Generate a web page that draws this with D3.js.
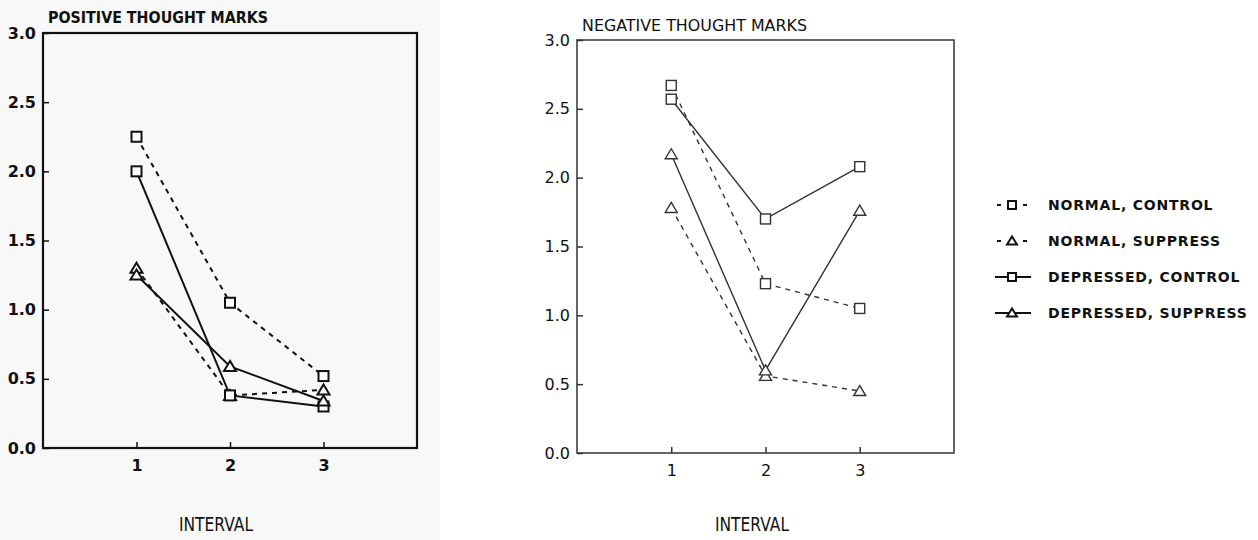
<!DOCTYPE html>
<html>
<head>
<meta charset="utf-8">
<script src="https://cdn.jsdelivr.net/npm/d3@7"></script>
<style>
  body { margin: 0; background: white; }
  text { font-family: "DejaVu Sans", sans-serif; fill: #111; }
</style>
</head>
<body>
<script>
// data
let intervals = [1, 2, 3];
let x_ticks = [1, 2, 3];
let y_ticks = [0, 0.5, 1.0, 1.5, 2.0, 2.5, 3.0];
let series_names = ["NORMAL, CONTROL", "NORMAL, SUPPRESS", "DEPRESSED, CONTROL", "DEPRESSED, SUPPRESS"];
let series_dashed = [true, true, false, false];
let series_symbol = ["square", "triangle", "square", "triangle"];

let pos_normal_control = [2.25, 1.05, 0.52];
let pos_normal_suppress = [1.30, 0.38, 0.42];
let pos_depressed_control = [2.00, 0.38, 0.30];
let pos_depressed_suppress = [1.25, 0.59, 0.34];

let neg_normal_control = [2.67, 1.23, 1.05];
let neg_normal_suppress = [1.78, 0.56, 0.45];
let neg_depressed_control = [2.57, 1.70, 2.08];
let neg_depressed_suppress = [2.17, 0.60, 1.76];

let panels = [
  { title: "POSITIVE THOUGHT MARKS", values: [pos_normal_control, pos_normal_suppress, pos_depressed_control, pos_depressed_suppress],
    left: 43, right: 417, top: 33, bottom: 448, weight: "bold", ink: "#111", stroke: 2, title_y: 23, title_len: 220, label_x: 216 },
  { title: "NEGATIVE THOUGHT MARKS", values: [neg_normal_control, neg_normal_suppress, neg_depressed_control, neg_depressed_suppress],
    left: 577, right: 954, top: 40, bottom: 453, weight: "normal", ink: "#333", stroke: 1.4, title_y: 31, title_len: 225, label_x: 752 }
];

let svg = d3.select("body").append("svg").attr("width", 1258).attr("height", 540);

// scanned page: left half slightly grey
svg.append("rect").attr("x", 0).attr("y", 0).attr("width", 440).attr("height", 540).attr("fill", "#f8f8f8");

function symbol(g, kind, cx, cy, size, ink, sw) {
  if (kind == "square") {
    g.append("rect")
      .attr("x", cx - size/2).attr("y", cy - size/2)
      .attr("width", size).attr("height", size)
      .attr("fill", "white").attr("stroke", ink).attr("stroke-width", sw);
  } else {
    let h = size * 0.9;
    g.append("path")
      .attr("d", `M${cx},${cy - h/2 - 1}L${cx + size/2 + 1},${cy + h/2}L${cx - size/2 - 1},${cy + h/2}Z`)
      .attr("fill", "white").attr("stroke", ink).attr("stroke-width", sw);
  }
}

panels.forEach(p => {
  let x = d3.scaleLinear().domain([0, 4]).range([p.left, p.right]);
  let y = d3.scaleLinear().domain([0, 3]).range([p.bottom, p.top]);
  let g = svg.append("g");

  let ax_y = g.append("g").attr("transform", `translate(${p.left},0)`)
    .call(d3.axisLeft(y).tickValues(y_ticks).tickFormat(d3.format(".1f")).tickSizeInner(-6).tickSizeOuter(0).tickPadding(7));
  let ax_x = g.append("g").attr("transform", `translate(0,${p.bottom})`)
    .call(d3.axisBottom(x).tickValues(x_ticks).tickFormat(d3.format("d")).tickSizeInner(-6).tickSizeOuter(0).tickPadding(12));
  [ax_y, ax_x].forEach(a => {
    a.select(".domain").remove();
    a.selectAll("line").attr("stroke", p.ink).attr("stroke-width", 1.5);
    a.selectAll("text").attr("font-size", 16).attr("font-weight", p.weight).attr("fill", p.ink)
      .attr("font-family", "DejaVu Sans");
  });

  g.append("rect")
    .attr("x", p.left).attr("y", p.top)
    .attr("width", p.right - p.left).attr("height", p.bottom - p.top)
    .attr("fill", "none").attr("stroke", p.ink).attr("stroke-width", p.weight == "bold" ? 2.2 : 1.5);

  g.append("text").text(p.title)
    .attr("x", p.left + 5).attr("y", p.title_y)
    .attr("font-size", 15).attr("font-weight", p.weight).attr("fill", p.ink)
    .attr("textLength", p.title_len).attr("lengthAdjust", "spacingAndGlyphs");

  let line = d3.line().x((d, i) => x(intervals[i])).y(d => y(d));
  p.values.forEach((vals, s) => {
    g.append("path").datum(vals)
      .attr("d", line)
      .attr("fill", "none").attr("stroke", p.ink).attr("stroke-width", p.stroke)
      .attr("stroke-dasharray", series_dashed[s] ? "5 5" : null);
  });
  p.values.forEach((vals, s) => {
    vals.forEach((v, i) => symbol(g, series_symbol[s], x(intervals[i]), y(v), 10, p.ink, p.stroke));
  });

  g.append("text").text("INTERVAL")
    .attr("x", p.label_x).attr("y", 531)
    .attr("text-anchor", "middle")
    .attr("font-family", "Liberation Sans Narrow, Liberation Sans, sans-serif")
    .attr("font-size", 19).attr("fill", "#111")
    .attr("textLength", 74).attr("lengthAdjust", "spacingAndGlyphs");
});

// legend
let legend = svg.append("g");
series_names.forEach((name, i) => {
  let ly = 205 + i * 36;
  let row = legend.append("g");
  if (series_dashed[i]) {
    row.append("line").attr("x1", 997).attr("x2", 1001).attr("y1", ly).attr("y2", ly).attr("stroke", "#111").attr("stroke-width", 2);
    row.append("line").attr("x1", 1023).attr("x2", 1027).attr("y1", ly).attr("y2", ly).attr("stroke", "#111").attr("stroke-width", 2);
  } else {
    row.append("line").attr("x1", 995).attr("x2", 1031).attr("y1", ly).attr("y2", ly).attr("stroke", "#111").attr("stroke-width", 2);
  }
  symbol(row, series_symbol[i], 1012, ly, 8, "#111", 2);
  row.append("text").text(name)
    .attr("x", 1048).attr("y", ly + 5)
    .attr("font-size", 14).attr("font-weight", "bold").attr("letter-spacing", 0.8);
});
</script>
</body>
</html>
